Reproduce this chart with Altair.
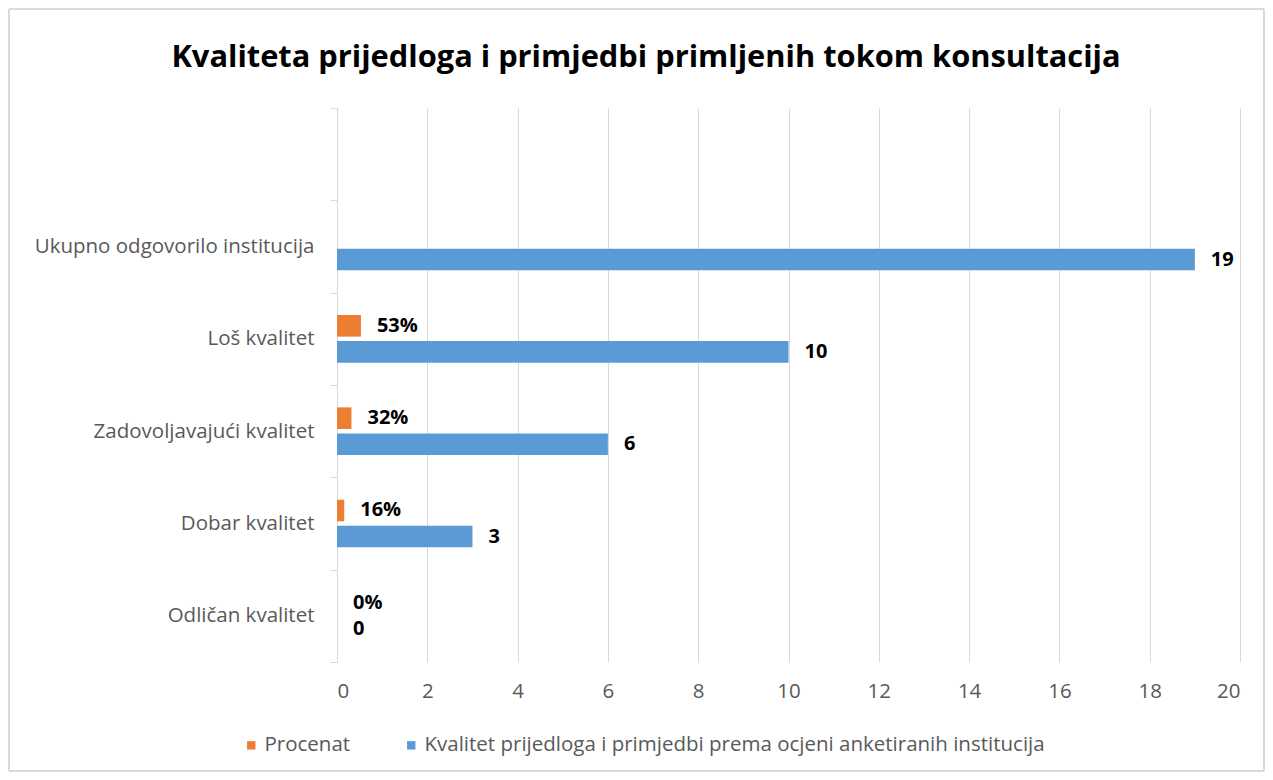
import altair as alt
import pandas as pd

categories = ["Ukupno odgovorilo institucija\u00a0", "Loš kvalitet", "Zadovoljavajući kvalitet",
              "Dobar kvalitet\u00a0", "Odličan kvalitet"]
procenat = [None, 0.53, 0.32, 0.16, 0.0]
kvalitet = [19, 10, 6, 3, 0]
series = ["Procenat", "Kvalitet prijedloga i primjedbi prema ocjeni anketiranih institucija"]
y_domain = [" "] + categories
x_ticks = list(range(0, 21, 2))
title_text = "Kvaliteta prijedloga i primjedbi primljenih tokom konsultacija"

rows = []
for c, p, k in zip(categories, procenat, kvalitet):
    if p is not None:
        rows.append({"cat": c, "series": series[0], "value": p, "label": f"{round(p*100)}%"})
    rows.append({"cat": c, "series": series[1], "value": k, "label": f"{k}"})
df = pd.DataFrame(rows)

FONT = "Open Sans"
GRAY = "#d9d9d9"
TXT = "#595959"
FS = 20.5

y_enc = alt.Y("cat:N", sort=y_domain,
              scale=alt.Scale(domain=y_domain, paddingInner=0, paddingOuter=0),
              axis=alt.Axis(title=None, orient="left", tickBand="extent", tickSize=7,
                            tickColor=GRAY, domainColor=GRAY, labelPadding=16,
                            labelLimit=400,
                            labelFont=FONT, labelFontSize=FS, labelColor=TXT, grid=False))
x_enc = alt.X("value:Q", scale=alt.Scale(domain=[0, 20], nice=False),
              axis=alt.Axis(title=None, values=x_ticks, grid=True, gridColor=GRAY,
                            domain=False, ticks=False, labelPadding=19,
                            labelFont=FONT, labelFontSize=FS, labelColor=TXT))
yoff = alt.YOffset("series:N", sort=series,
                   scale=alt.Scale(domain=series, paddingInner=0.17, paddingOuter=0.86))

base = alt.Chart(df)

bars = base.mark_bar().encode(
    x=x_enc, y=y_enc, yOffset=yoff,
    color=alt.Color("series:N", sort=series,
                    scale=alt.Scale(domain=series, range=["#ED7D31", "#5B9BD5"]),
                    legend=alt.Legend(title=None, orient="none", legendX=-96, legendY=627,
                                      direction="horizontal", symbolType="square",
                                      symbolSize=70, symbolStrokeWidth=0, labelFont=FONT,
                                      labelFontSize=FS, labelColor=TXT, columnPadding=50,
                                      labelOffset=3, labelLimit=900)),
)

labels = base.mark_text(align="left", baseline="middle", dx=16, font=FONT,
                        fontSize=20, fontWeight="bold", color="#000000").encode(
    x="value:Q", y=alt.Y("cat:N", sort=y_domain), yOffset=yoff, text="label:N",
)

title = alt.Chart(pd.DataFrame({"t": [title_text]})).mark_text(
    align="center", baseline="middle", font=FONT, fontSize=30.8, fontWeight="bold",
    color="#000000").encode(text="t:N", x=alt.value(309), y=alt.value(-50))

border = alt.Chart(df).mark_rect(fill=None, stroke=GRAY, strokeWidth=1).encode(
    x=alt.value(-328), x2=alt.value(927), y=alt.value(-99), y2=alt.value(663),
)

chart = alt.layer(bars, labels, title, border).properties(
    width=903, height=554,
    autosize=alt.AutoSizeParams(type="none"),
    padding={"left": 329, "top": 100, "right": 25, "bottom": 110},
).configure_view(stroke=None)

chart.save("out.html", embed_options={"renderer": "svg", "actions": False})
